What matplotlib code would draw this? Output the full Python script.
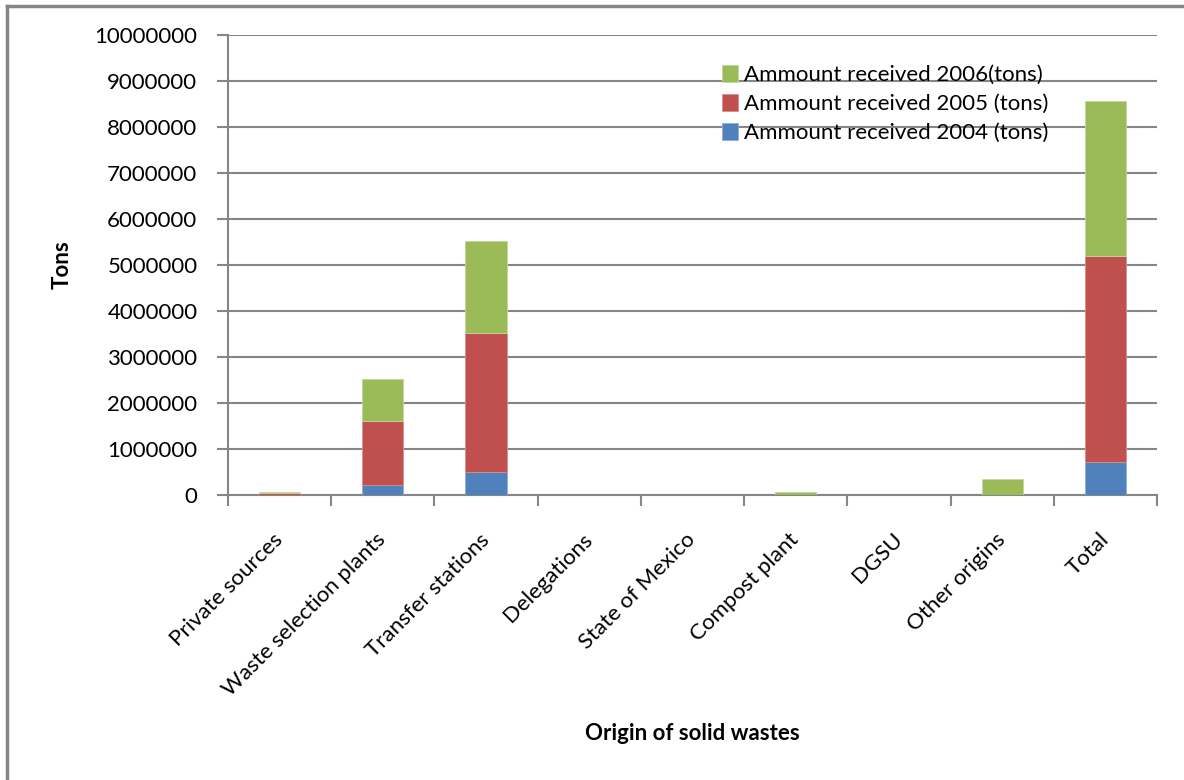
import numpy as np
import matplotlib.pyplot as plt
from matplotlib.lines import Line2D

plt.rcParams['font.family'] = ['Lato', 'DejaVu Sans']

# tons received by origin, per year
origins = ['Private sources', 'Waste selection plants', 'Transfer stations',
           'Delegations', 'State of Mexico', 'Compost plant', 'DGSU',
           'Other origins', 'Total']
tons_2004 = [5000, 210000, 490000, 0, 0, 0, 0, 0, 720000]
tons_2005 = [35000, 1405000, 3030000, 0, 0, 0, 0, 0, 4470000]
tons_2006 = [15000, 900000, 2000000, 0, 0, 65000, 0, 350000, 3380000]

yticks = np.arange(0, 10000001, 1000000)

blue, red, green = '#4F81BD', '#C0504D', '#9BBB59'
grid_gray = '#868686'

fig = plt.figure(figsize=(11.84, 7.8), dpi=100)
ax = fig.add_axes([228 / 1184, 1 - 495 / 780, 929 / 1184, 460 / 780])

x = np.arange(len(origins))
b04 = np.array(tons_2004)
b05 = np.array(tons_2005)
b06 = np.array(tons_2006)
w = 0.4
ax.bar(x, b04, w, color=blue, edgecolor='#8FB0D8', linewidth=0.6,
       label='Ammount received 2004 (tons)', zorder=3)
ax.bar(x, b05, w, bottom=b04, color=red, edgecolor='#D88F8D', linewidth=0.6,
       label='Ammount received 2005 (tons)', zorder=3)
ax.bar(x, b06, w, bottom=b04 + b05, color=green, edgecolor='#C3D69B', linewidth=0.6,
       label='Ammount received 2006(tons)', zorder=3)

ax.set_xlim(-0.5, len(origins) - 0.5)
ax.set_ylim(0, 10000000)
ax.set_yticks(yticks)
ax.set_yticklabels([str(v) for v in yticks], fontsize=16)
ax.yaxis.grid(True, color=grid_gray, linewidth=1.5, zorder=0)
ax.set_axisbelow(True)

# category boundary ticks on the x axis, labels at the centres
ax.set_xticks(np.arange(-0.5, len(origins)), minor=False)
ax.set_xticklabels([])
ax.set_xticks(x, minor=True)
ax.set_xticklabels(origins, minor=True, rotation=45, ha='right', va='center',
                   rotation_mode='anchor', fontsize=16)
ax.tick_params(axis='x', which='minor', length=0, pad=30)
ax.tick_params(axis='x', which='major', length=8, width=1.5, color=grid_gray)
ax.tick_params(axis='y', length=8, width=1.5, color=grid_gray, pad=14)

for side in ['top', 'right']:
    ax.spines[side].set_visible(False)
for side in ['left', 'bottom']:
    ax.spines[side].set_color(grid_gray)
    ax.spines[side].set_linewidth(1.5)

ax.set_ylabel('Tons', fontsize=16, fontweight='bold', labelpad=16)
fig.text(692 / 1184, 1 - 733 / 780, 'Origin of solid wastes', fontsize=16,
         fontweight='bold', ha='center', va='center')

handles, labels = ax.get_legend_handles_labels()
ax.legend(handles[::-1], labels[::-1], loc='upper left',
          bbox_to_anchor=(0.52, 0.96), frameon=False, fontsize=16,
          handlelength=0.7, handleheight=0.8, handletextpad=0.3,
          labelspacing=0.4, borderpad=0)

# chart-area frame: only the left and top edges fall inside the image
frame_x = 6.5 / 1184
frame_y = 1 - 5.5 / 780
fig.add_artist(Line2D([frame_x, frame_x], [0, frame_y], transform=fig.transFigure,
                      color=grid_gray, linewidth=2.5))
fig.add_artist(Line2D([frame_x, 1], [frame_y, frame_y], transform=fig.transFigure,
                      color=grid_gray, linewidth=2.5))

fig.savefig('out.png', dpi=100)
